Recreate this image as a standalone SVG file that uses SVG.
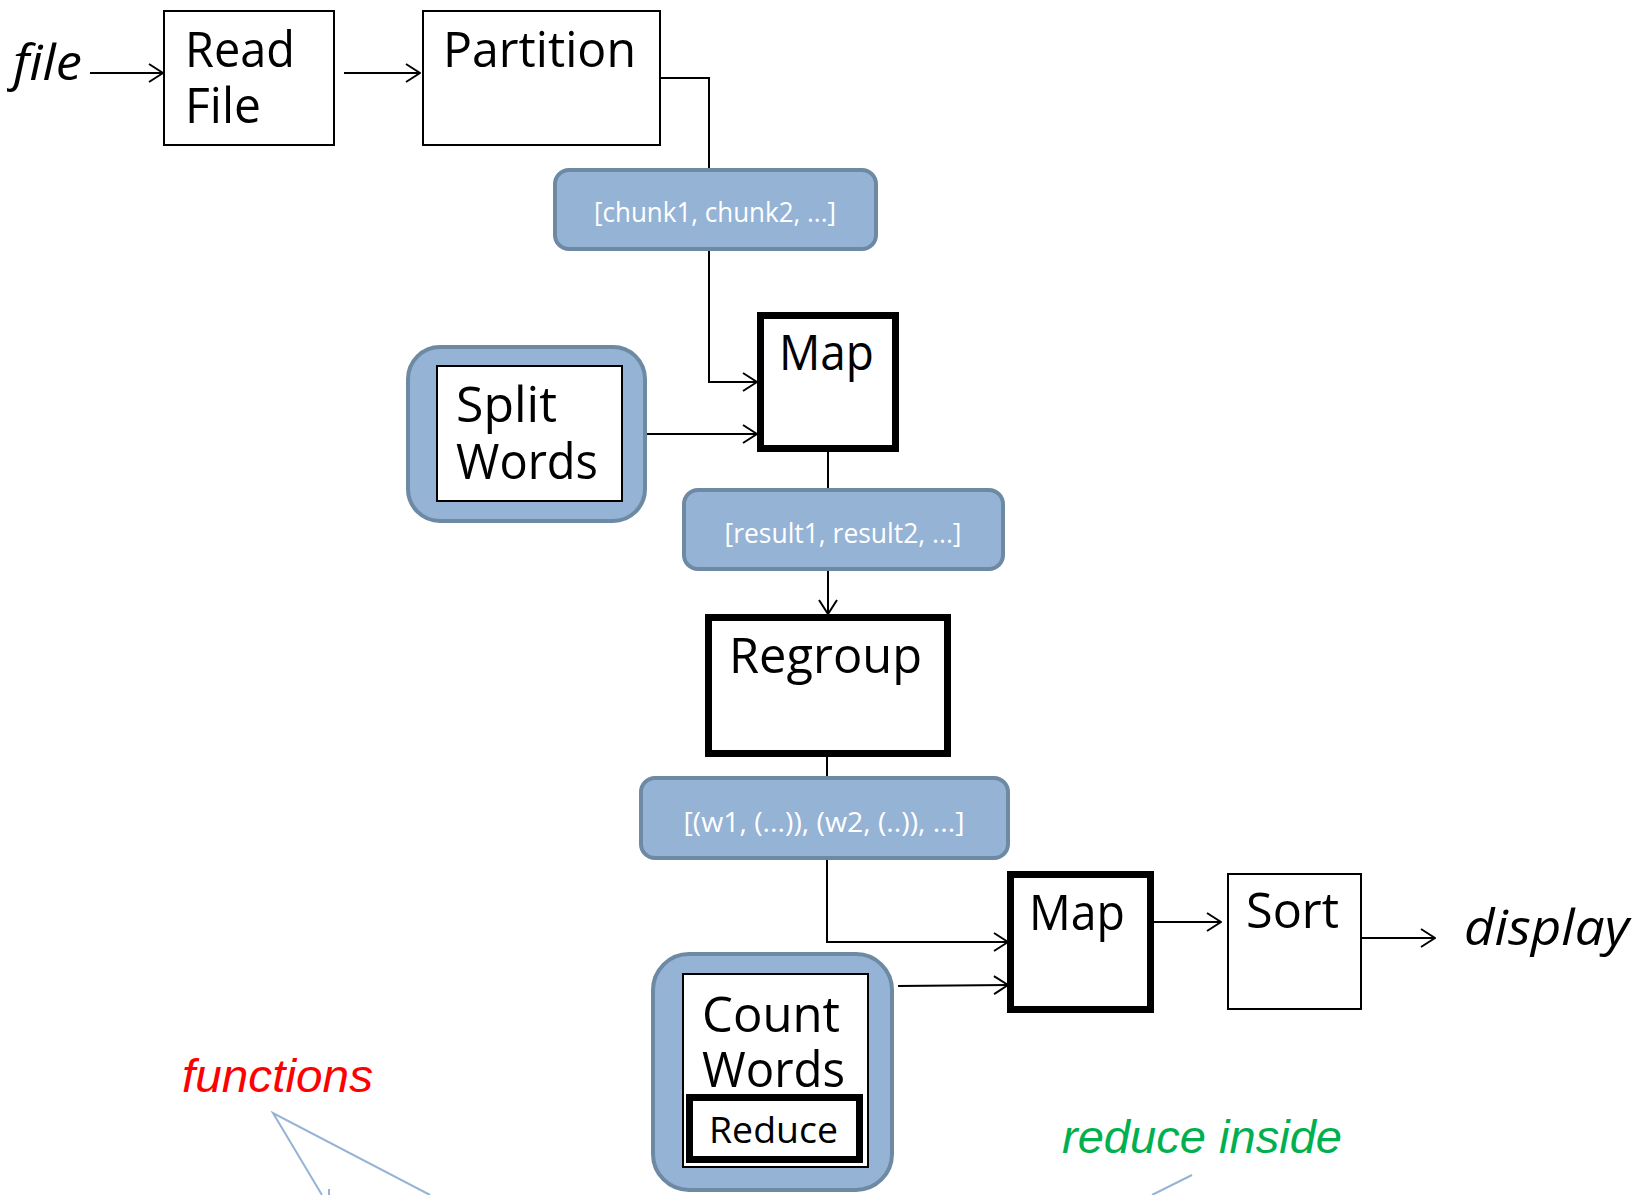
<svg xmlns="http://www.w3.org/2000/svg" width="1645" height="1195" viewBox="0 0 1645 1195">
<style>
  .box { fill: #ffffff; stroke: #000000; stroke-width: 2; }
  .thick { fill: #ffffff; stroke: #000000; stroke-width: 7; }
  .blue { fill: #95b3d5; stroke: #6d89a3; stroke-width: 4; }
  .lbl { font-family: "Open Sans", "DejaVu Sans", sans-serif; font-size: 50px; fill: #000000; }
  .small { font-family: "Open Sans", "DejaVu Sans", sans-serif; font-size: 28px; fill: #ffffff; text-anchor: middle; }
  .ital { font-family: "Open Sans", "DejaVu Sans", sans-serif; font-style: italic; font-size: 50px; fill: #000000; }
  .note { font-family: "Liberation Sans", Arial, sans-serif; font-style: italic; font-size: 46px; }
  .conn { fill: none; stroke: #000000; stroke-width: 2; }
  .callout { fill: none; stroke: #95b3d5; stroke-width: 2; }
</style>
<defs>
  <marker id="arr" viewBox="0 0 16 20" refX="15" refY="10" markerWidth="16" markerHeight="20" markerUnits="userSpaceOnUse" orient="auto">
    <path d="M1,1 L15,10 L1,19" fill="none" stroke="#000000" stroke-width="2"/>
  </marker>
</defs>
<rect width="1645" height="1195" fill="#ffffff"/>

<g id="connectors">
  <line class="conn" x1="90" y1="73" x2="163" y2="73" marker-end="url(#arr)"/>
  <line class="conn" x1="344" y1="73" x2="420" y2="73" marker-end="url(#arr)"/>
  <polyline class="conn" points="660,78 709,78 709,169"/>
  <polyline class="conn" points="709,250 709,382 757,382" marker-end="url(#arr)"/>
  <line class="conn" x1="646" y1="434" x2="757" y2="434" marker-end="url(#arr)"/>
  <line class="conn" x1="828" y1="452" x2="828" y2="489"/>
  <line class="conn" x1="828" y1="570" x2="828" y2="614" marker-end="url(#arr)"/>
  <line class="conn" x1="827" y1="757" x2="827" y2="777"/>
  <polyline class="conn" points="827,859 827,942 1008,942" marker-end="url(#arr)"/>
  <line class="conn" x1="898" y1="986" x2="1008" y2="985" marker-end="url(#arr)"/>
  <line class="conn" x1="1153" y1="922" x2="1221" y2="922" marker-end="url(#arr)"/>
  <line class="conn" x1="1362" y1="938" x2="1435" y2="938" marker-end="url(#arr)"/>
  <polyline class="callout" points="322,1195 273,1113 430,1195"/>
  <line class="callout" x1="329" y1="1189" x2="329" y2="1195"/>
  <line class="callout" x1="1192" y1="1175" x2="1152" y2="1195"/>
</g>

<g id="file-label">
  <text class="ital" x="13" y="80" textLength="69" lengthAdjust="spacingAndGlyphs">file</text>
</g>

<g id="read-file">
  <rect class="box" x="164" y="11" width="170" height="134"/>
  <text class="lbl" x="185" y="67" textLength="110" lengthAdjust="spacingAndGlyphs">Read</text>
  <text class="lbl" x="185" y="123" textLength="76" lengthAdjust="spacingAndGlyphs">File</text>
</g>

<g id="partition">
  <rect class="box" x="423" y="11" width="237" height="134"/>
  <text class="lbl" x="443" y="67" textLength="193" lengthAdjust="spacingAndGlyphs">Partition</text>
</g>

<g id="chunks">
  <rect class="blue" x="555" y="170" width="321" height="79" rx="14"/>
  <text class="small" x="715" y="222" textLength="242" lengthAdjust="spacingAndGlyphs">[chunk1, chunk2, ...]</text>
</g>

<g id="split-words">
  <rect class="blue" x="408" y="347" width="237" height="174" rx="32"/>
  <rect class="box" x="437" y="366" width="185" height="135"/>
  <text class="lbl" x="456" y="422" textLength="101" lengthAdjust="spacingAndGlyphs">Split</text>
  <text class="lbl" x="456" y="479" textLength="142" lengthAdjust="spacingAndGlyphs">Words</text>
</g>

<g id="map1">
  <rect class="thick" x="760.5" y="315.5" width="135" height="133"/>
  <text class="lbl" x="779" y="370" textLength="95" lengthAdjust="spacingAndGlyphs">Map</text>
</g>

<g id="results">
  <rect class="blue" x="684" y="490" width="319" height="79" rx="14"/>
  <text class="small" x="843" y="543" textLength="237" lengthAdjust="spacingAndGlyphs">[result1, result2, ...]</text>
</g>

<g id="regroup">
  <rect class="thick" x="708.5" y="617.5" width="239" height="136"/>
  <text class="lbl" x="729" y="673" textLength="193" lengthAdjust="spacingAndGlyphs">Regroup</text>
</g>

<g id="groups">
  <rect class="blue" x="641" y="778" width="367" height="80" rx="14"/>
  <text class="small" x="824" y="832" textLength="281" lengthAdjust="spacingAndGlyphs">[(w1, (...)), (w2, (..)), ...]</text>
</g>

<g id="map2">
  <rect class="thick" x="1010.5" y="874.5" width="140" height="135"/>
  <text class="lbl" x="1029" y="930" textLength="96" lengthAdjust="spacingAndGlyphs">Map</text>
</g>

<g id="sort">
  <rect class="box" x="1228" y="874" width="133" height="135"/>
  <text class="lbl" x="1246" y="928" textLength="93" lengthAdjust="spacingAndGlyphs">Sort</text>
</g>

<g id="display-label">
  <text class="ital" x="1464" y="945" textLength="165" lengthAdjust="spacingAndGlyphs">display</text>
</g>

<g id="count-words">
  <rect class="blue" x="653" y="954" width="239" height="236" rx="36"/>
  <rect class="box" x="683" y="974" width="185" height="193"/>
  <text class="lbl" x="702" y="1032" textLength="138" lengthAdjust="spacingAndGlyphs">Count</text>
  <text class="lbl" x="702" y="1087" textLength="143" lengthAdjust="spacingAndGlyphs">Words</text>
  <g id="reduce">
    <rect class="thick" x="689.5" y="1097.5" width="170" height="62"/>
    <text class="lbl" x="709" y="1143" style="font-size:37px" textLength="129" lengthAdjust="spacingAndGlyphs">Reduce</text>
  </g>
</g>

<g id="functions-note">
  <text class="note" x="182" y="1092" fill="#ff0000" textLength="191" lengthAdjust="spacingAndGlyphs">functions</text>
</g>

<g id="reduce-inside-note">
  <text class="note" x="1062" y="1153" fill="#00b050" textLength="280" lengthAdjust="spacingAndGlyphs">reduce inside</text>
</g>
</svg>
